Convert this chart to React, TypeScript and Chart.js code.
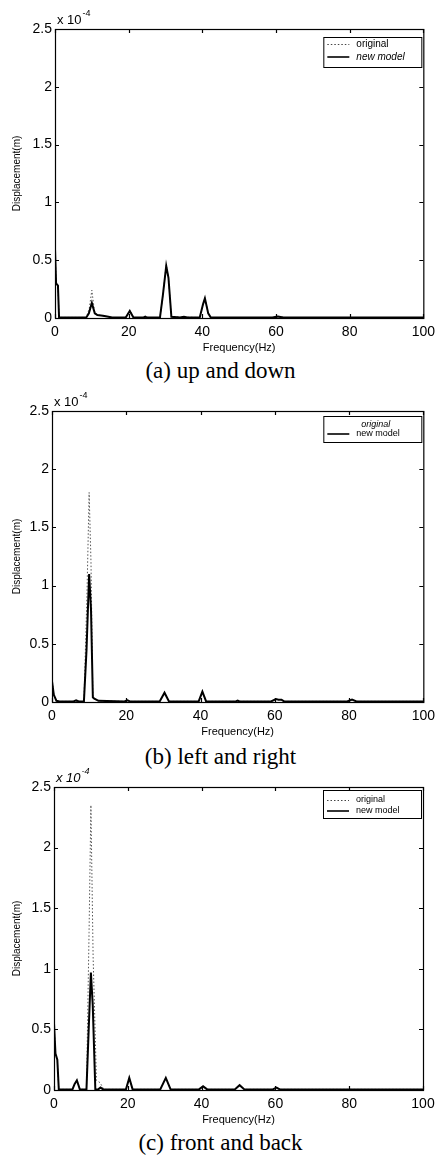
import React, { useEffect, useRef } from "react";
import { Chart, registerables } from "chart.js";
Chart.register(...registerables);

// ---------- data (displacement in units of 1e-4 m) ----------
const legendLabels = ["original", "new model"];
const xTickValues = [0, 20, 40, 60, 80, 100];
const yTickValues = [0, 0.5, 1, 1.5, 2, 2.5];
const captions = ["(a) up and down", "(b) left and right", "(c) front and back"];

// (a) up and down
const freqUpDownNew = [0, 0.3, 0.8, 1.1, 8.5, 9.2, 10, 10.8, 11.5, 13, 14.5, 15.5, 19.2, 20.3, 21.3, 24, 24.5, 25, 28.5, 29.3, 30.2, 30.8, 31.6, 34, 35, 36, 39.3, 40.2, 40.7, 41.6, 42.3, 59, 60.5, 62, 100];
const dispUpDownNew = [0.6, 0.3, 0.28, 0.005, 0.005, 0.04, 0.13, 0.04, 0.025, 0.02, 0.01, 0.004, 0.004, 0.06, 0.004, 0.004, 0.012, 0.004, 0.004, 0.2, 0.45, 0.35, 0.01, 0.004, 0.01, 0.004, 0.004, 0.12, 0.17, 0.04, 0.004, 0.004, 0.012, 0.004, 0.004];
const freqUpDownOrig = [0, 0.3, 0.8, 1.1, 8.5, 9.3, 10, 10.7, 11.5, 13, 14.5, 15.5, 19.2, 20.3, 21.3, 28.5, 29.3, 30.2, 30.8, 31.6, 39.3, 40.2, 40.7, 41.6, 42.3, 59, 60.5, 62, 100];
const dispUpDownOrig = [0.62, 0.3, 0.28, 0.005, 0.005, 0.08, 0.24, 0.06, 0.025, 0.02, 0.01, 0.004, 0.004, 0.07, 0.004, 0.004, 0.2, 0.46, 0.35, 0.01, 0.004, 0.12, 0.18, 0.04, 0.004, 0.004, 0.015, 0.004, 0.004];

// (b) left and right
const freqLeftRightNew = [0, 0.5, 1.2, 2, 5.8, 6.5, 7.2, 8.6, 9.3, 10, 10.5, 11, 11.3, 12.5, 19.5, 20.3, 21, 29, 30.3, 31.5, 39.5, 40.5, 41.5, 49.5, 50, 50.5, 59, 60.3, 61, 61.8, 62.5, 79.5, 80.8, 82, 100];
const dispLeftRightNew = [0.18, 0.06, 0.01, 0.005, 0.005, 0.015, 0.005, 0.005, 0.45, 1.1, 0.8, 0.04, 0.03, 0.01, 0.005, 0.015, 0.005, 0.005, 0.08, 0.005, 0.005, 0.09, 0.005, 0.005, 0.012, 0.005, 0.005, 0.025, 0.02, 0.02, 0.005, 0.005, 0.02, 0.005, 0.005];
const freqLeftRightOrig = [0, 0.5, 1.2, 2, 8.6, 9.4, 10, 10.5, 11, 11.3, 12.5, 19.5, 20.3, 21, 29, 30.3, 31.5, 39.5, 40.5, 41.5, 59, 60.3, 61, 61.8, 62.5, 79.5, 80.8, 82, 100];
const dispLeftRightOrig = [0.2, 0.06, 0.01, 0.005, 0.005, 0.9, 1.8, 1.2, 0.05, 0.03, 0.01, 0.005, 0.02, 0.005, 0.005, 0.08, 0.005, 0.005, 0.09, 0.005, 0.005, 0.025, 0.02, 0.02, 0.005, 0.005, 0.02, 0.005, 0.005];

// (c) front and back
const freqFrontBackNew = [0, 0.4, 0.9, 1.3, 5, 5.6, 6.2, 7, 8.8, 9.4, 10, 10.5, 11.2, 12, 12.6, 13.3, 19.5, 20.4, 21.3, 28.8, 30.3, 31.6, 39.3, 40.4, 41.5, 49, 50.3, 51.6, 59.3, 60.3, 61.2, 100];
const dispFrontBackNew = [0.55, 0.3, 0.25, 0.005, 0.005, 0.05, 0.08, 0.005, 0.005, 0.5, 0.97, 0.7, 0.005, 0.005, 0.02, 0.005, 0.005, 0.1, 0.005, 0.005, 0.1, 0.005, 0.005, 0.03, 0.005, 0.005, 0.04, 0.005, 0.005, 0.02, 0.005, 0.005];
const freqFrontBackOrig = [0, 0.4, 0.9, 1.3, 5, 5.6, 6.2, 7, 8.8, 9.5, 10, 10.6, 11.5, 12.5, 13.5, 19.5, 20.4, 21.3, 28.8, 30.3, 31.6, 39.3, 40.4, 41.5, 49, 50.3, 51.6, 59.3, 60.3, 61.2, 100];
const dispFrontBackOrig = [0.55, 0.3, 0.25, 0.005, 0.005, 0.05, 0.08, 0.005, 0.005, 1.3, 2.35, 1.1, 0.08, 0.06, 0.005, 0.005, 0.1, 0.005, 0.005, 0.1, 0.005, 0.005, 0.03, 0.005, 0.005, 0.04, 0.005, 0.005, 0.02, 0.005, 0.005];

// ---------- layout ----------
type Sub = {
  newF: number[]; newD: number[]; origF: number[]; origD: number[];
  top: number; bottom: number; left: number; right: number;
  multItalic: boolean;
  legend: { top: number; h: number; rows: [number, number]; italic: [boolean, boolean]; font: number; origSample: boolean };
  captionY: number;
};

const subs: Sub[] = [
  {
    newF: freqUpDownNew, newD: dispUpDownNew, origF: freqUpDownOrig, origD: dispUpDownOrig,
    top: 29, bottom: 318, left: 55, right: 425, multItalic: false,
    legend: { top: 37, h: 30, rows: [44, 57], italic: [false, true], font: 10, origSample: true },
    captionY: 371,
  },
  {
    newF: freqLeftRightNew, newD: dispLeftRightNew, origF: freqLeftRightOrig, origD: dispLeftRightOrig,
    top: 411, bottom: 702, left: 52, right: 425, multItalic: false,
    legend: { top: 416, h: 26, rows: [424, 434], italic: [true, false], font: 9, origSample: false },
    captionY: 757,
  },
  {
    newF: freqFrontBackNew, newD: dispFrontBackNew, origF: freqFrontBackOrig, origD: dispFrontBackOrig,
    top: 787, bottom: 1090, left: 54, right: 423, multItalic: true,
    legend: { top: 790, h: 28, rows: [800, 811], italic: [false, false], font: 9, origSample: true },
    captionY: 1143,
  },
];

const SANS = '"Liberation Sans", Arial, sans-serif';

const framePlugin = {
  id: "matlabFrame",
  afterDraw(chart: any, _args: any, opts: any) {
    const { ctx, chartArea } = chart;
    const { left, right, top, bottom } = chartArea;
    const xs = chart.scales.x;
    const ys = chart.scales.y;
    ctx.save();
    ctx.strokeStyle = "#000";
    ctx.lineWidth = 1.2;
    ctx.strokeRect(left + 0.5, top + 0.5, right - left, bottom - top);
    ctx.beginPath();
    const tl = 4;
    for (const v of xTickValues) {
      const p = Math.round(xs.getPixelForValue(v)) + 0.5;
      ctx.moveTo(p, bottom); ctx.lineTo(p, bottom - tl);
      ctx.moveTo(p, top); ctx.lineTo(p, top + tl);
    }
    for (const v of yTickValues) {
      const p = Math.round(ys.getPixelForValue(v)) + 0.5;
      ctx.moveTo(left, p); ctx.lineTo(left + tl, p);
      ctx.moveTo(right, p); ctx.lineTo(right - tl, p);
    }
    ctx.stroke();

    // multiplier
    ctx.fillStyle = "#000";
    ctx.textBaseline = "alphabetic";
    ctx.textAlign = "left";
    const it = opts.multItalic ? "italic " : "";
    ctx.font = `${it}13px ${SANS}`;
    ctx.fillText("x 10", left + 2, top - 5);
    const w = ctx.measureText("x 10").width;
    ctx.font = `${it}9px ${SANS}`;
    ctx.fillText("-4", left + 3 + w, top - 13);

    // legend
    const lg = opts.legend;
    const bx = right - 100;
    const bw = 98;
    const canvasTop = opts.canvasTop;
    const by = lg.top - canvasTop;
    ctx.fillStyle = "#fff";
    ctx.fillRect(bx, by, bw, lg.h);
    ctx.strokeStyle = "#000";
    ctx.lineWidth = 1;
    ctx.strokeRect(bx + 0.5, by + 0.5, bw, lg.h);
    const labels = chart.data.datasets.map((d: any) => d.label);
    const r0 = lg.rows[0] - canvasTop;
    const r1 = lg.rows[1] - canvasTop;
    if (lg.origSample) {
      ctx.beginPath();
      ctx.setLineDash([1.5, 2]);
      ctx.strokeStyle = "#444";
      ctx.lineWidth = 1;
      ctx.moveTo(bx + 4, r0 + 0.5); ctx.lineTo(bx + 26, r0 + 0.5);
      ctx.stroke();
      ctx.setLineDash([]);
    }
    ctx.beginPath();
    ctx.strokeStyle = "#000";
    ctx.lineWidth = 1.6;
    ctx.moveTo(bx + 4, r1); ctx.lineTo(bx + 26, r1);
    ctx.stroke();
    ctx.fillStyle = "#000";
    ctx.textBaseline = "middle";
    ctx.font = `${lg.italic[0] ? "italic " : ""}${lg.font}px ${SANS}`;
    ctx.fillText(labels[0], bx + (lg.origSample ? 33 : 38), r0);
    ctx.font = `${lg.italic[1] ? "italic " : ""}${lg.font}px ${SANS}`;
    ctx.fillText(labels[1], bx + 33, r1);
    ctx.restore();
  },
};

function SubChart({ s, idx }: { s: Sub; idx: number }) {
  const ref = useRef<HTMLCanvasElement>(null);
  const canvasTop = s.top - 29;
  const height = s.bottom + 37 - canvasTop;
  useEffect(() => {
    if (!ref.current) return;
    const chart = new Chart(ref.current, {
      type: "line",
      data: {
        datasets: [
          {
            label: legendLabels[0],
            data: s.origF.map((f, i) => ({ x: f, y: s.origD[i] })),
            borderColor: "#555",
            borderWidth: 1,
            borderDash: [1.5, 2],
            pointRadius: 0,
            tension: 0,
            order: 1,
          },
          {
            label: legendLabels[1],
            data: s.newF.map((f, i) => ({ x: f, y: s.newD[i] })),
            borderColor: "#000",
            borderWidth: 2,
            pointRadius: 0,
            tension: 0,
            order: 0,
          },
        ],
      },
      options: {
        animation: false,
        responsive: false,
        devicePixelRatio: 1,
        layout: { padding: { top: 29, right: 441 - s.right, left: 0, bottom: 0 } },
        plugins: {
          legend: { display: false },
          tooltip: { enabled: false },
          matlabFrame: { multItalic: s.multItalic, legend: s.legend, canvasTop },
        } as any,
        scales: {
          x: {
            type: "linear",
            min: 0,
            max: 100,
            afterBuildTicks: (sc: any) => { sc.ticks = xTickValues.map((v) => ({ value: v })); },
            ticks: { color: "#000", font: { family: SANS, size: 14 }, padding: 6, maxRotation: 0, autoSkip: false, callback: (v: any) => String(v) },
            grid: { display: false, drawTicks: false },
            border: { display: false },
            title: { display: true, text: "Frequency(Hz)", color: "#000", font: { family: SANS, size: 11 }, padding: { top: 0, bottom: 0 } },
            afterFit: (sc: any) => { sc.height = 37; },
          },
          y: {
            type: "linear",
            min: 0,
            max: 2.5,
            afterBuildTicks: (sc: any) => { sc.ticks = yTickValues.map((v) => ({ value: v })); },
            ticks: { color: "#000", font: { family: SANS, size: 14 }, padding: 3, callback: (v: any) => String(v) },
            grid: { display: false, drawTicks: false },
            border: { display: false },
            title: { display: true, text: "Displacement(m)", color: "#000", font: { family: SANS, size: 10 }, padding: { top: 11, bottom: 0 } },
            afterFit: (sc: any) => { sc.width = s.left; },
          },
        },
      },
      plugins: [framePlugin],
    });
    return () => chart.destroy();
  }, [s]);
  return (
    <>
      <canvas
        ref={ref}
        width={441}
        height={height}
        style={{ position: "absolute", left: 0, top: canvasTop, width: 441, height }}
      />
      <div
        style={{
          position: "absolute",
          left: 0,
          width: 441,
          top: s.captionY - 12,
          height: 24,
          lineHeight: "24px",
          textAlign: "center",
          fontFamily: '"Liberation Serif", "Times New Roman", serif',
          fontSize: 23,
          color: "#000",
        }}
      >
        {captions[idx]}
      </div>
    </>
  );
}

export default function App() {
  return (
    <div style={{ position: "absolute", left: 0, top: 0, width: 441, height: 1160, background: "#fff", overflow: "hidden" }}>
      {subs.map((s, i) => (
        <SubChart key={i} s={s} idx={i} />
      ))}
    </div>
  );
}
